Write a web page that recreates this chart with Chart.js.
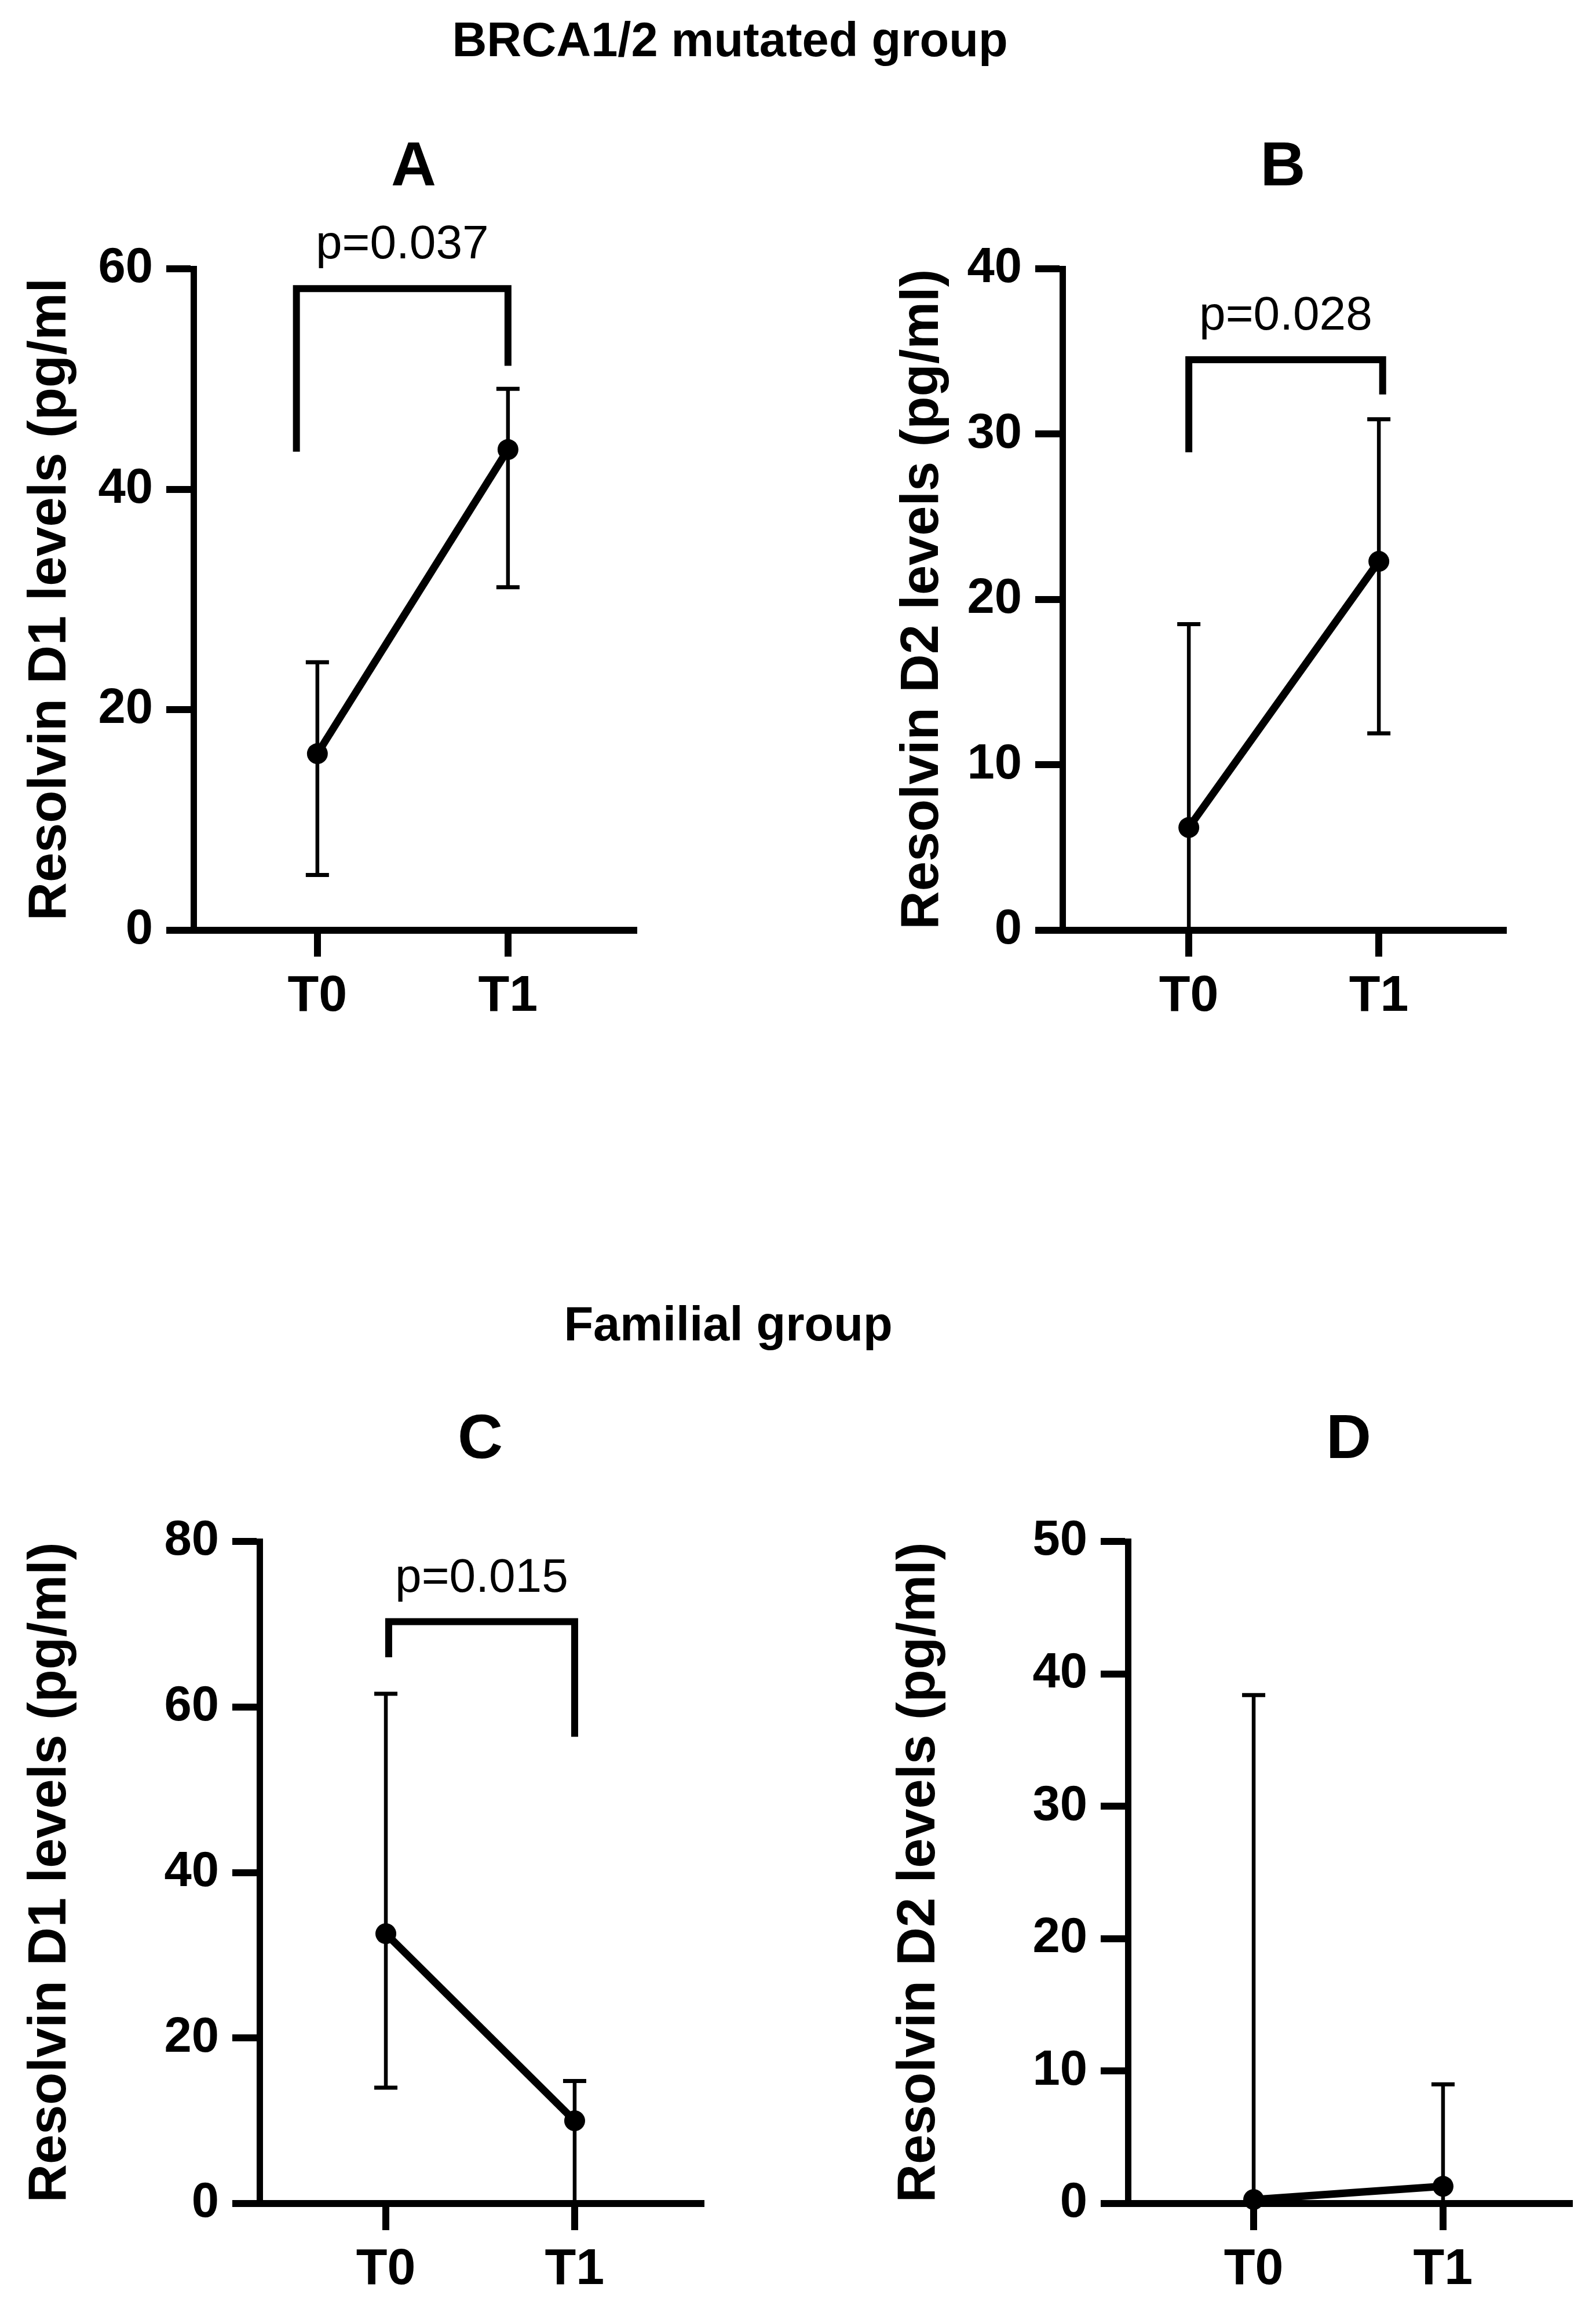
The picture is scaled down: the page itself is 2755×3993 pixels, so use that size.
<!DOCTYPE html>
<html>
<head>
<meta charset="utf-8">
<script src="https://cdn.jsdelivr.net/npm/chart.js@4.4.1/dist/chart.umd.min.js"></script>
<style>
  html, body { margin: 0; padding: 0; background: #fff; }
  body { position: relative; width: 2755px; height: 3993px; overflow: hidden; font-family: "Liberation Sans", Arial, Helvetica, sans-serif; }
  .grp { position: absolute; font-weight: bold; font-size: 83px; line-height: 83px; white-space: nowrap; color: #000; transform: translateX(-50%); }
  canvas { position: absolute; }
</style>
</head>
<body>
<div class="grp" style="left:1260px; top:27px;">BRCA1/2 mutated group</div>
<div class="grp" style="left:1257px; top:2244px;">Familial group</div>

<canvas id="cA"></canvas>
<canvas id="cB"></canvas>
<canvas id="cC"></canvas>
<canvas id="cD"></canvas>

<script>
// ── data ──────────────────────────────────────────────────────────────────
const timepoints = ['T0', 'T1'];

// A: Resolvin D1, BRCA1/2 mutated
const rvd1BrcaMean = [16.0, 43.6];
const rvd1BrcaLow  = [5.0, 31.1];
const rvd1BrcaHigh = [24.3, 49.1];
const yTicksA = [0, 20, 40, 60];
const bracketXA = [-0.11, 1.0];
const bracketYA = [43.4, 58.2, 51.2];   // left leg end, bar, right leg end
const pValueA = 'p=0.037';

// B: Resolvin D2, BRCA1/2 mutated
const rvd2BrcaMean = [6.2, 22.3];
const rvd2BrcaLow  = [0, 11.9];
const rvd2BrcaHigh = [18.5, 30.9];
const yTicksB = [0, 10, 20, 30, 40];
const bracketXB = [0.0, 1.02];
const bracketYB = [28.9, 34.5, 32.4];
const pValueB = 'p=0.028';

// C: Resolvin D1, familial
const rvd1FamMean = [32.6, 10.0];
const rvd1FamLow  = [14.0, 0];
const rvd1FamHigh = [61.6, 14.8];
const yTicksC = [0, 20, 40, 60, 80];
const bracketXC = [0.015, 1.0];
const bracketYC = [66.0, 70.3, 56.4];
const pValueC = 'p=0.015';

// D: Resolvin D2, familial
const rvd2FamMean = [0.3, 1.3];
const rvd2FamLow  = [0, 0];
const rvd2FamHigh = [38.4, 9.0];
const yTicksD = [0, 10, 20, 30, 40, 50];

const FONT = '"Liberation Sans", Arial, Helvetica, sans-serif';

Chart.defaults.font.family = FONT;
Chart.defaults.color = '#000';

// brackets, p-values and panel letters
const annotate = {
    id: 'annotate',
    afterDraw(chart, args, opts) {
        const { ctx, chartArea } = chart;
        const xs = chart.scales.x, ys = chart.scales.y;
        ctx.save();
        ctx.fillStyle = '#000';
        ctx.strokeStyle = '#000';
        ctx.textAlign = 'center';
        ctx.textBaseline = 'alphabetic';
        ctx.font = `bold 108px ${FONT}`;
        ctx.fillText(opts.letter, (chartArea.left + chartArea.right) / 2, chartArea.top - 144);

        if (opts.bracketX) {
            const x0 = xs.getPixelForValue(opts.bracketX[0]);
            const x1 = xs.getPixelForValue(opts.bracketX[1]);
            const yL = ys.getPixelForValue(opts.bracketY[0]);
            const yT = ys.getPixelForValue(opts.bracketY[1]);
            const yR = ys.getPixelForValue(opts.bracketY[2]);
            ctx.lineWidth = 12;
            ctx.lineJoin = 'miter';
            ctx.lineCap = 'butt';
            ctx.beginPath();
            ctx.moveTo(x0, yL);
            ctx.lineTo(x0, yT);
            ctx.lineTo(x1, yT);
            ctx.lineTo(x1, yR);
            ctx.stroke();
            ctx.font = `82px ${FONT}`;
            ctx.fillText(opts.pValue, (x0 + x1) / 2, yT - 52);
        }
        ctx.restore();
    }
};

function meanPoints(mean) {
    return mean.map((m, i) => ({ x: i, y: m }));
}

function errorPoints(low, high) {
    const pts = [];
    low.forEach((lo, i) => {
        pts.push({ x: i, y: lo }, { x: i, y: high[i] }, { x: i, y: null });
    });
    return pts;
}

// page-pixel layout of each panel
function makePanel(p) {
    const cv = document.getElementById(p.id);
    cv.width = p.w;
    cv.height = p.h;
    cv.style.left = p.left + 'px';
    cv.style.top = p.top + 'px';
    cv.style.width = p.w + 'px';
    cv.style.height = p.h + 'px';

    const xAxisH = 150;
    const yAxisW = p.area.l - p.left;

    new Chart(cv, {
        type: 'line',
        data: {
            datasets: [
                {
                    data: meanPoints(p.mean),
                    borderColor: '#000',
                    borderWidth: 13,
                    pointRadius: 18,
                    pointBackgroundColor: '#000',
                    pointBorderWidth: 0,
                    tension: 0,
                    clip: false,
                    order: 0
                },
                {
                    data: errorPoints(p.low, p.high),
                    borderColor: '#000',
                    borderWidth: 6.5,
                    spanGaps: false,
                    pointStyle: 'line',
                    pointRadius: 20,
                    pointBorderWidth: 7,
                    pointBorderColor: '#000',
                    clip: false,
                    order: 1
                }
            ]
        },
        options: {
            responsive: false,
            animation: false,
            events: [],
            layout: {
                padding: {
                    left: 0,
                    right: p.left + p.w - p.area.r,
                    top: p.area.t - p.top,
                    bottom: p.top + p.h - xAxisH - p.area.b
                }
            },
            plugins: {
                legend: { display: false },
                tooltip: { enabled: false },
                title: { display: false },
                annotate: {
                    letter: p.letter,
                    bracketX: p.bracketX,
                    bracketY: p.bracketY,
                    pValue: p.pValue
                }
            },
            scales: {
                x: {
                    type: 'linear',
                    min: p.xRange[0],
                    max: p.xRange[1],
                    afterBuildTicks: s => { s.ticks = timepoints.map((t, i) => ({ value: i })); },
                    afterFit: s => { s.height = xAxisH; },
                    ticks: {
                        callback: (v, i) => timepoints[i],
                        autoSkip: false,
                        maxRotation: 0,
                        padding: 16,
                        font: { size: 88, weight: 'bold' },
                        color: '#000'
                    },
                    grid: {
                        drawOnChartArea: false,
                        drawTicks: true,
                        tickLength: 46,
                        lineWidth: 12,
                        color: '#000'
                    },
                    border: { display: true, width: 12, color: '#000' }
                },
                y: {
                    type: 'linear',
                    min: p.yTicks[0],
                    max: p.yTicks[p.yTicks.length - 1],
                    afterBuildTicks: s => { s.ticks = p.yTicks.map(v => ({ value: v })); },
                    afterFit: s => { s.width = yAxisW; },
                    ticks: {
                        padding: 23,
                        font: { size: 85, weight: 'bold' },
                        color: '#000'
                    },
                    grid: {
                        drawOnChartArea: false,
                        drawTicks: true,
                        tickLength: 47,
                        lineWidth: 12,
                        color: '#000'
                    },
                    border: { display: true, width: 11, color: '#000' },
                    title: {
                        display: true,
                        text: p.yTitle,
                        font: { size: 92, weight: 'bold', lineHeight: 1.2 },
                        color: '#000',
                        padding: { top: p.titleBase - p.left - 31.9 - 55.2, bottom: 0 }
                    }
                }
            }
        },
        plugins: [annotate]
    });
}

makePanel({
    id: 'cA', letter: 'A', left: 0, top: 0, w: 1378, h: 1850,
    area: { l: 334, r: 1094, t: 464, b: 1605.5 }, xRange: [-0.650, 1.660], titleBase: 120,
    mean: rvd1BrcaMean, low: rvd1BrcaLow, high: rvd1BrcaHigh, yTicks: yTicksA,
    yTitle: 'Resolvin D1 levels (pg/ml',
    bracketX: bracketXA, bracketY: bracketYA, pValue: pValueA
});

makePanel({
    id: 'cB', letter: 'B', left: 1378, top: 0, w: 1377, h: 1850,
    area: { l: 1834, r: 2595, t: 464, b: 1605.5 }, xRange: [-0.665, 1.655], titleBase: 1626,
    mean: rvd2BrcaMean, low: rvd2BrcaLow, high: rvd2BrcaHigh, yTicks: yTicksB,
    yTitle: 'Resolvin D2 levels (pg/ml)',
    bracketX: bracketXB, bracketY: bracketYB, pValue: pValueB
});

makePanel({
    id: 'cC', letter: 'C', left: 0, top: 2100, w: 1378, h: 1893,
    area: { l: 448, r: 1210, t: 2661, b: 3804 }, xRange: [-0.669, 1.669], titleBase: 120,
    mean: rvd1FamMean, low: rvd1FamLow, high: rvd1FamHigh, yTicks: yTicksC,
    yTitle: 'Resolvin D1 levels (pg/ml)',
    bracketX: bracketXC, bracketY: bracketYC, pValue: pValueC
});

makePanel({
    id: 'cD', letter: 'D', left: 1378, top: 2100, w: 1377, h: 1893,
    area: { l: 1947, r: 2709, t: 2661, b: 3804 }, xRange: [-0.664, 1.667], titleBase: 1620,
    mean: rvd2FamMean, low: rvd2FamLow, high: rvd2FamHigh, yTicks: yTicksD,
    yTitle: 'Resolvin D2 levels (pg/ml)'
});
</script>
</body>
</html>
